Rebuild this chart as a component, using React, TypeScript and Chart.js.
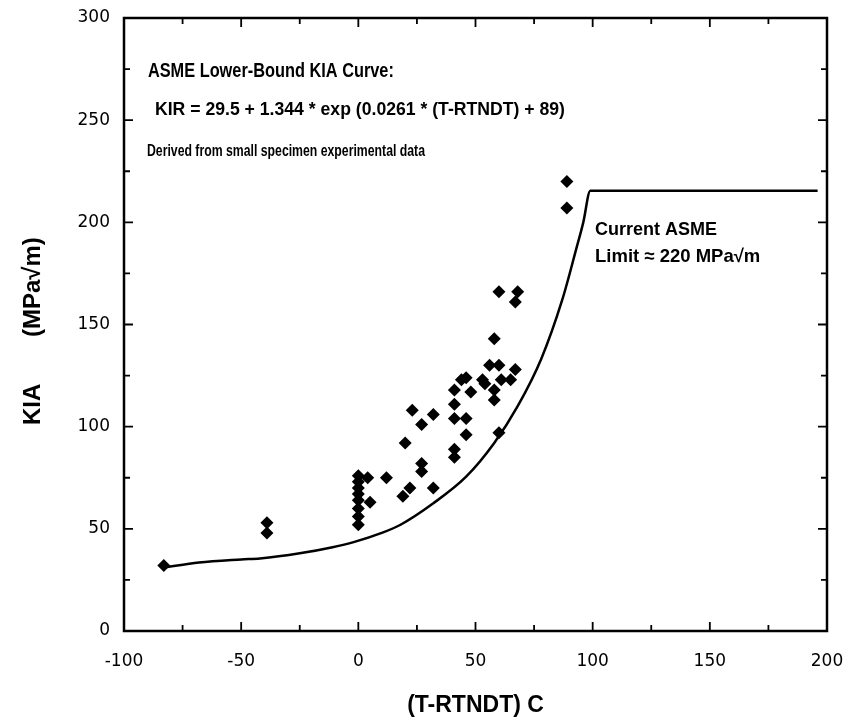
import React, { useEffect, useRef } from "react";
import { Chart, registerables } from "chart.js";

Chart.register(...registerables);

// Experimental KIA data (T-RTNDT in °C, KIA in MPa√m)
const dataX = [
  -83, -39, -39,
  0, 0, 0, 0, 0, 0, 0, 0,
  4, 5, 12, 19, 22, 32, 27, 27,
  20, 23, 27, 32,
  41, 41, 46, 46, 41, 41,
  44, 46, 41, 48, 53, 54,
  56, 60, 58, 67, 61, 65, 58, 58, 60,
  60, 68, 67,
  89, 89,
];
const dataY = [
  32, 53, 48,
  76, 73, 70, 67, 64, 60, 56, 52,
  75, 63, 75, 66, 70, 70, 82, 78,
  92, 108, 101, 106,
  111, 104, 104, 96, 89, 85,
  123, 124, 118, 117, 123, 121,
  130, 130, 143, 128, 123, 123, 118, 113, 97,
  166, 166, 161,
  220, 207,
];

// ASME lower-bound curve
const curveX = [-83, -68, -50, -42, -25, -11, -2, 10, 18, 32, 46, 58, 68, 78, 87, 93, 96, 99, 196];
const curveY = [31, 33.5, 35, 35.5, 38, 41, 43.5, 48, 52, 62.5, 75.5, 92, 110, 133, 162, 187, 200, 215.5, 215.5];

const xTitle = "(T-RTNDT) C";
const yTitle = "KIA       (MPa\u221Am)  ";

const notes = [
  { text: "ASME Lower-Bound KIA Curve:", x: -89.8, y: 273.6, font: "bold 19.5px 'Liberation Sans', Arial, sans-serif", w: 246 },
  { text: "KIR = 29.5 + 1.344 * exp (0.0261 * (T-RTNDT) + 89)", x: -86.8, y: 255, font: "bold 18px 'Liberation Sans', Arial, sans-serif", w: 410 },
  { text: "Derived from small specimen experimental data", x: -90.2, y: 234.5, font: "bold 16px 'Liberation Sans', Arial, sans-serif", w: 278 },
  { text: "Current ASME", x: 101, y: 196.3, font: "bold 18px 'Liberation Sans', Arial, sans-serif", w: 125 },
  { text: "Limit \u2248 220 MPa\u221Am", x: 101, y: 183.1, font: "bold 18.5px 'Liberation Sans', Arial, sans-serif", w: 168 },
];

const framePlugin = {
  id: "frameTicks",
  afterDraw(chart: any) {
    const ctx = chart.ctx;
    const xs = chart.scales.x;
    const ys = chart.scales.y;
    const { left, right, top, bottom } = chart.chartArea;
    ctx.save();
    ctx.strokeStyle = "#000";
    ctx.lineWidth = 2.5;
    ctx.strokeRect(left, top, right - left, bottom - top);
    ctx.lineWidth = 1.8;
    for (let v = -100; v <= 200; v += 25) {
      const px = xs.getPixelForValue(v);
      const len = v % 50 === 0 ? 9 : 6;
      ctx.beginPath();
      ctx.moveTo(px, bottom);
      ctx.lineTo(px, bottom - len);
      ctx.moveTo(px, top);
      ctx.lineTo(px, top + len);
      ctx.stroke();
    }
    for (let v = 0; v <= 300; v += 25) {
      const py = ys.getPixelForValue(v);
      const len = v % 50 === 0 ? 9 : 6;
      ctx.beginPath();
      ctx.moveTo(left, py);
      ctx.lineTo(left + len, py);
      ctx.moveTo(right, py);
      ctx.lineTo(right - len, py);
      ctx.stroke();
    }
    ctx.fillStyle = "#000";
    ctx.textAlign = "left";
    ctx.textBaseline = "middle";
    for (const n of notes) {
      ctx.font = n.font;
      ctx.fillText(n.text, xs.getPixelForValue(n.x), ys.getPixelForValue(n.y), n.w);
    }
    ctx.restore();
  },
};

export default function App() {
  const ref = useRef<HTMLCanvasElement | null>(null);
  useEffect(() => {
    if (!ref.current) return;
    const scatterPts = dataX.map((x, i) => ({ x, y: dataY[i] }));
    const curvePts = curveX.map((x, i) => ({ x, y: curveY[i] }));
    const tickFont = { family: "'DejaVu Sans', sans-serif", size: 17 };
    const chart = new Chart(ref.current, {
      type: "scatter",
      data: {
        datasets: [
          {
            data: curvePts,
            showLine: true,
            borderColor: "#000",
            borderWidth: 2.5,
            pointRadius: 0,
            cubicInterpolationMode: "monotone",
            fill: false,
          } as any,
          {
            data: scatterPts,
            pointStyle: "rectRot",
            pointRadius: 6.5,
            backgroundColor: "#000",
            borderColor: "#000",
            borderWidth: 0,
          },
        ],
      },
      options: {
        animation: false,
        responsive: false,
        events: [],
        layout: { padding: { left: 0, right: 24, top: 18, bottom: 0 } },
        plugins: { legend: { display: false }, tooltip: { enabled: false } },
        scales: {
          x: {
            type: "linear",
            min: -100,
            max: 200,
            grid: { display: false, drawTicks: false },
            border: { display: false },
            ticks: { stepSize: 50, color: "#000", font: tickFont, padding: 20 },
            title: {
              display: true,
              text: xTitle,
              color: "#000",
              font: { family: "'Liberation Sans', Arial, sans-serif", size: 23, weight: "bold" },
              padding: { top: 0, bottom: 0 },
            },
            afterFit: (s: any) => {
              s.height = 88;
              s.paddingLeft = 0;
              s.paddingRight = 0;
            },
          },
          y: {
            type: "linear",
            min: 0,
            max: 300,
            grid: { display: false, drawTicks: false },
            border: { display: false },
            ticks: { stepSize: 50, color: "#000", font: tickFont, padding: 14 },
            title: {
              display: true,
              text: yTitle,
              color: "#000",
              font: { family: "'Liberation Sans', Arial, sans-serif", size: 24, weight: "bold" },
              padding: { top: 19, bottom: 0 },
            },
            afterFit: (s: any) => {
              s.width = 124;
              s.paddingTop = 0;
              s.paddingBottom = 0;
            },
          },
        },
      },
      plugins: [framePlugin],
    });
    return () => chart.destroy();
  }, []);
  return (
    <div style={{ position: "absolute", left: 0, top: 0, width: 851, height: 719, background: "#fff" }}>
      <canvas ref={ref} width={851} height={719} />
    </div>
  );
}
